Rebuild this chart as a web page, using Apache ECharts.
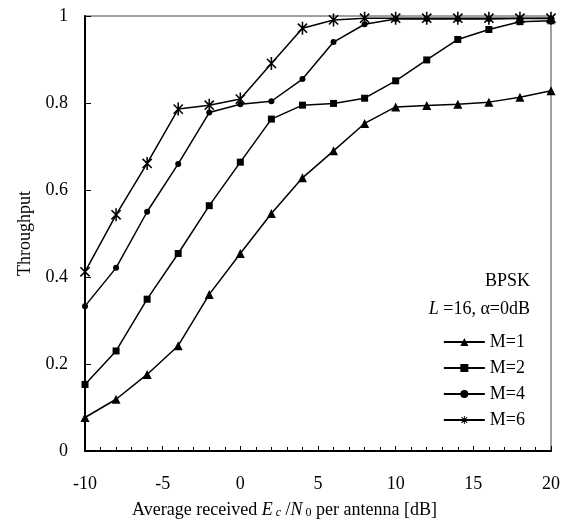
<!DOCTYPE html>
<html>
<head>
<meta charset="utf-8">
<script src="https://cdn.jsdelivr.net/npm/echarts@6/dist/echarts.min.js"></script>
<style>
  html, body { margin: 0; padding: 0; background: #fff; }
  #chart { width: 569px; height: 524px; }
</style>
</head>
<body>
<div id="chart"></div>
<script>
// Average received Ec/N0 per antenna (dB)
const snrDb = [-10, -8, -6, -4, -2, 0, 2, 4, 6, 8, 10, 12, 14, 16, 18, 20];

// Throughput for each number of receive antennas M (BPSK, L=16, alpha=0dB)
const thrM1 = [0.077, 0.119, 0.176, 0.242, 0.360, 0.454, 0.546, 0.628, 0.690, 0.753, 0.791, 0.794, 0.797, 0.802, 0.813, 0.828];
const thrM2 = [0.153, 0.230, 0.349, 0.454, 0.564, 0.664, 0.763, 0.795, 0.799, 0.811, 0.851, 0.899, 0.946, 0.969, 0.987, 0.989];
const thrM4 = [0.333, 0.421, 0.550, 0.660, 0.778, 0.797, 0.804, 0.855, 0.940, 0.981, 0.993, 0.993, 0.993, 0.993, 0.994, 0.994];
const thrM6 = [0.412, 0.543, 0.661, 0.786, 0.795, 0.809, 0.891, 0.972, 0.991, 0.995, 0.995, 0.995, 0.995, 0.995, 0.995, 0.995];

const seriesNames = ['M=1', 'M=2', 'M=4', 'M=6'];
const yTicks = [0, 0.2, 0.4, 0.6, 0.8, 1];

const FONT = "'Liberation Serif', 'Times New Roman', 'DejaVu Serif', serif";
const FS = 18;

// Asterisk marker: vertical bar plus two diagonal bars, as a filled path
function barPath(angleDeg, len, w) {
  const a = angleDeg * Math.PI / 180;
  const c = Math.cos(a), s = Math.sin(a);
  const pts = [[-len, -w], [len, -w], [len, w], [-len, w]].map(([x, y]) =>
    [(x * c - y * s).toFixed(3), (x * s + y * c).toFixed(3)]);
  return 'M' + pts.map(p => p.join(',')).join('L') + 'Z';
}
const asteriskSymbol = 'path://' + [barPath(90, 10, 1.2), barPath(45, 10, 1.2), barPath(-45, 10, 1.2), 'M-10,-10L-9.9,-10L-9.9,-9.9Z', 'M10,10L9.9,10L9.9,9.9Z'].join(' ');

function pairs(values) {
  return snrDb.map((x, i) => [x, values[i]]);
}

function lineSeries(name, values, symbol, size) {
  return {
    name: name,
    type: 'line',
    data: pairs(values),
    symbol: symbol,
    symbolSize: size,
    symbolKeepAspect: true,
    showAllSymbol: true,
    lineStyle: { color: '#000', width: 1.5 },
    itemStyle: { color: '#000', borderWidth: 0 },
    emphasis: { disabled: true },
    animation: false
  };
}

const chart = echarts.init(document.getElementById('chart'), null, { renderer: 'canvas' });

chart.setOption({
  backgroundColor: '#fff',
  animation: false,
  grid: {
    left: 85, right: 18, top: 16, bottom: 73,
    show: true, borderColor: '#808080', borderWidth: 1.5, backgroundColor: 'transparent'
  },
  xAxis: {
    type: 'value',
    min: -10, max: 20, interval: 5,
    axisLine: { show: true, onZero: false, lineStyle: { color: '#000', width: 2 } },
    axisTick: { show: true, inside: true, length: 5, lineStyle: { color: '#000', width: 1 } },
    minorTick: { show: true, splitNumber: 5, length: 4, lineStyle: { color: '#000', width: 1 } },
    splitLine: { show: false },
    axisLabel: { margin: 24, color: '#000', fontFamily: FONT, fontSize: FS }
  },
  yAxis: {
    type: 'value',
    min: 0, max: 1, interval: 0.2,
    name: 'Throughput',
    nameLocation: 'middle',
    nameGap: 51,
    nameTextStyle: { color: '#000', fontFamily: FONT, fontSize: FS },
    axisLine: { show: true, onZero: false, lineStyle: { color: '#000', width: 2 } },
    axisTick: { show: true, inside: true, length: 6, lineStyle: { color: '#000', width: 1 } },
    splitLine: { show: false },
    axisLabel: {
      margin: 17, color: '#000', fontFamily: FONT, fontSize: FS,
      formatter: v => {
        const t = yTicks.find(k => Math.abs(k - v) < 1e-9);
        return t === undefined ? '' : String(t);
      }
    }
  },
  legend: {
    orient: 'vertical',
    right: 39,
    top: 328,
    itemWidth: 41,
    itemHeight: 10,
    itemGap: 8,
    align: 'left',
    selectedMode: false,
    data: seriesNames,
    textStyle: { color: '#000', fontFamily: FONT, fontSize: FS, lineHeight: 18, padding: [0, 0, 0, 0] }
  },
  graphic: [
    {
      type: 'text', right: 39, top: 272,
      style: { text: 'BPSK', fill: '#000', font: `${FS}px ${FONT}` }
    },
    {
      type: 'text', right: 39, top: 300,
      style: {
        text: '{i|L}{n| =16, α=0dB}',
        fill: '#000',
        rich: {
          i: { fontFamily: FONT, fontSize: FS, fontStyle: 'italic', fill: '#000' },
          n: { fontFamily: FONT, fontSize: FS, fill: '#000' }
        }
      }
    },
    {
      type: 'text', left: 'center', top: 501,
      style: {
        text: '{n|Average received }{i|E}{si| c}{n| /}{i|N}{s| 0}{n| per antenna [dB]}',
        fill: '#000',
        rich: {
          n: { fontFamily: FONT, fontSize: FS, lineHeight: 22, verticalAlign: 'bottom', fill: '#000' },
          i: { fontFamily: FONT, fontSize: FS, lineHeight: 22, fontStyle: 'italic', verticalAlign: 'bottom', fill: '#000' },
          si: { fontFamily: FONT, fontSize: 12, lineHeight: 15, fontStyle: 'italic', verticalAlign: 'bottom', fill: '#000' },
          s: { fontFamily: FONT, fontSize: 12, lineHeight: 15, verticalAlign: 'bottom', fill: '#000' }
        }
      }
    }
  ],
  series: [
    lineSeries('M=1', thrM1, 'triangle', 9),
    lineSeries('M=2', thrM2, 'rect', 7),
    lineSeries('M=4', thrM4, 'circle', 6),
    lineSeries('M=6', thrM6, asteriskSymbol, 13)
  ]
});
</script>
</body>
</html>
